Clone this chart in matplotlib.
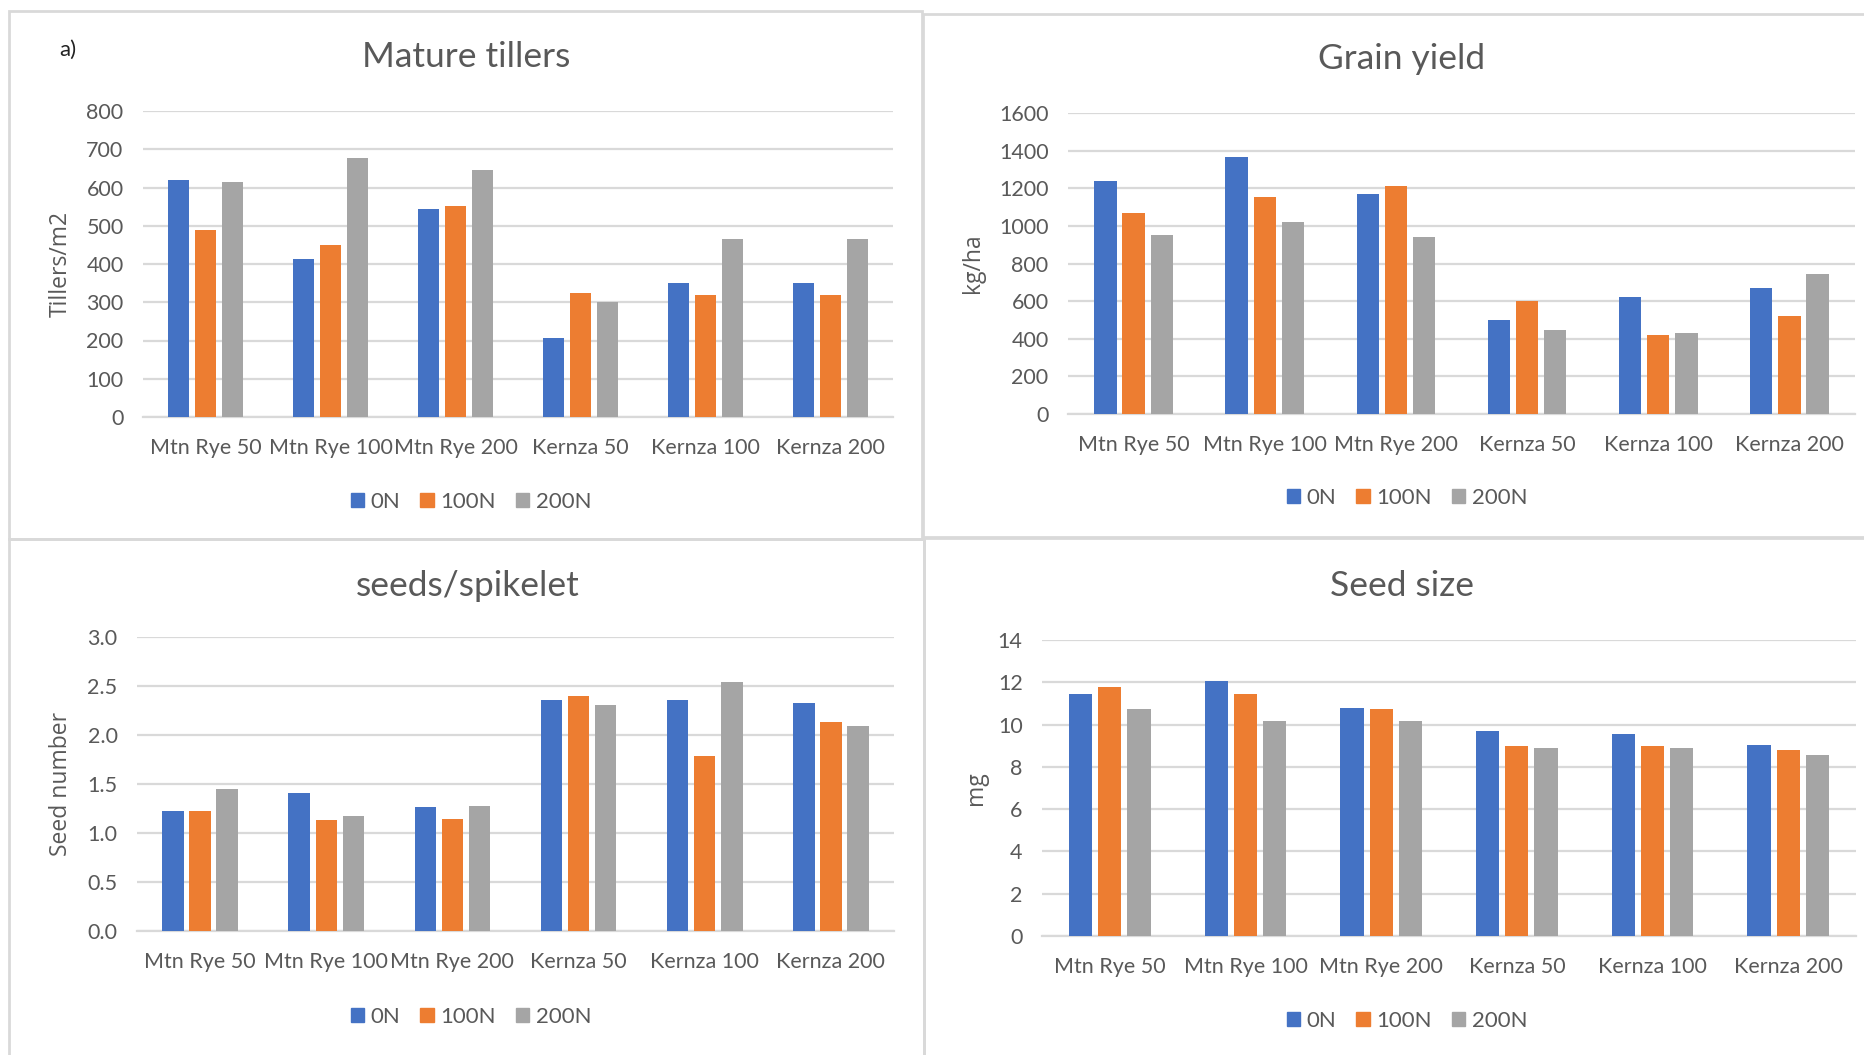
import matplotlib.pyplot as plt
import numpy as np
from matplotlib.patches import Rectangle

W, H = 1865, 1055

categories = ['Mtn Rye 50', 'Mtn Rye 100', 'Mtn Rye 200', 'Kernza 50', 'Kernza 100', 'Kernza 200']
series_names = ['0N', '100N', '200N']
colors = ['#4472C4', '#ED7D31', '#A5A5A5']

tillers_0n = [619, 414, 545, 206, 350, 350]
tillers_100n = [488, 449, 552, 324, 320, 320]
tillers_200n = [615, 676, 646, 300, 465, 465]

yield_0n = [1236, 1364, 1168, 500, 624, 672]
yield_100n = [1071, 1155, 1210, 602, 419, 522]
yield_200n = [950, 1023, 943, 445, 432, 745]

seeds_0n = [1.22, 1.41, 1.27, 2.36, 2.36, 2.33]
seeds_100n = [1.22, 1.13, 1.14, 2.40, 1.79, 2.13]
seeds_200n = [1.45, 1.17, 1.28, 2.31, 2.54, 2.09]

size_0n = [11.44, 12.05, 10.78, 9.68, 9.57, 9.02]
size_100n = [11.76, 11.44, 10.74, 8.98, 8.98, 8.79]
size_200n = [10.74, 10.17, 10.17, 8.90, 8.90, 8.55]

FONT = ['Lato', 'DejaVu Sans']
LABEL_FONT = ['Open Sans', 'DejaVu Sans']
TXT = '#595959'
GRID = '#d9d9d9'

fig = plt.figure(figsize=(W / 100, H / 100), dpi=100)


def box(x0, y0, x1, y1):
    return [x0 / W, 1 - y1 / H, (x1 - x0) / W, (y1 - y0) / H]


def panel(rect, series, ylim, step, fmt, ylabel, title, title_xy, ylabel_x, legend_xy):
    ax = fig.add_axes(box(*rect))
    x = np.arange(len(categories))
    width, offset = 0.17, 0.215
    for i, vals in enumerate(series):
        ax.bar(x + (i - 1) * offset, vals, width, color=colors[i], label=series_names[i], zorder=3)
    ax.set_xlim(-0.5, len(categories) - 0.5)
    ax.set_ylim(*ylim)
    ticks = np.arange(ylim[0], ylim[1] + step / 2, step)
    ax.set_yticks(ticks)
    ax.set_yticklabels([fmt.format(t) for t in ticks], family=FONT, fontsize=15.5, color=TXT)
    ax.set_xticks(x)
    ax.set_xticklabels(categories, family=FONT, fontsize=15.5, color=TXT)
    ax.tick_params(axis='both', length=0)
    ax.tick_params(axis='y', pad=14)
    ax.tick_params(axis='x', pad=15)
    ax.grid(axis='y', color=GRID, linewidth=1.6, zorder=0)
    for s in ['top', 'right', 'left']:
        ax.spines[s].set_visible(False)
    ax.spines['bottom'].set_color(GRID)
    ax.spines['bottom'].set_linewidth(1.6)
    fig.text(title_xy[0] / W, 1 - title_xy[1] / H, title, family=FONT, fontsize=25.5,
             color=TXT, ha='center', va='center')
    ymid = (rect[1] + rect[3]) / 2
    fig.text(ylabel_x / W, 1 - ymid / H, ylabel, family=LABEL_FONT, fontsize=16.5,
             color=TXT, rotation=90, ha='center', va='center')
    handles = [Rectangle((0, 0), 1, 1, color=c) for c in colors]
    fig.legend(handles, series_names, loc='center',
               bbox_to_anchor=(legend_xy[0] / W, 1 - legend_xy[1] / H),
               ncol=3, frameon=False, handlelength=0.6, handleheight=0.6,
               handletextpad=0.3, columnspacing=0.9,
               prop={'family': FONT, 'size': 16}, labelcolor=TXT)
    return ax


panel((143, 111, 893, 417), [tillers_0n, tillers_100n, tillers_200n], (0, 800), 100, '{:.0f}',
      'Tillers/m2', 'Mature tillers', (466, 57), 61, (471, 502))
panel((1068, 113, 1855, 414), [yield_0n, yield_100n, yield_200n], (0, 1600), 200, '{:.0f}',
      'kg/ha', 'Grain yield', (1402, 59), 973, (1407, 498))
panel((137, 637, 894, 931), [seeds_0n, seeds_100n, seeds_200n], (0, 3), 0.5, '{:.1f}',
      'Seed number', 'seeds/spikelet', (468, 586), 61, (471, 1017))
panel((1042, 640, 1856, 936), [size_0n, size_100n, size_200n], (0, 14), 2, '{:.0f}',
      'mg', 'Seed size', (1402, 586), 976, (1407, 1021))

fig.text(68 / W, 1 - 50 / H, 'a)', family=FONT, fontsize=16, color='#222222',
         ha='center', va='center')

# panel frames
for (x0, y0, x1, y1) in [(9, 11, 922, 539), (923, 14, 1870, 537),
                         (9, 539, 924, 1060), (924, 538, 1870, 1060)]:
    fig.patches.append(Rectangle((x0 / W, 1 - y1 / H), (x1 - x0) / W, (y1 - y0) / H,
                                 transform=fig.transFigure, fill=False,
                                 edgecolor=GRID, linewidth=2))

fig.savefig('out.png', dpi=100)
